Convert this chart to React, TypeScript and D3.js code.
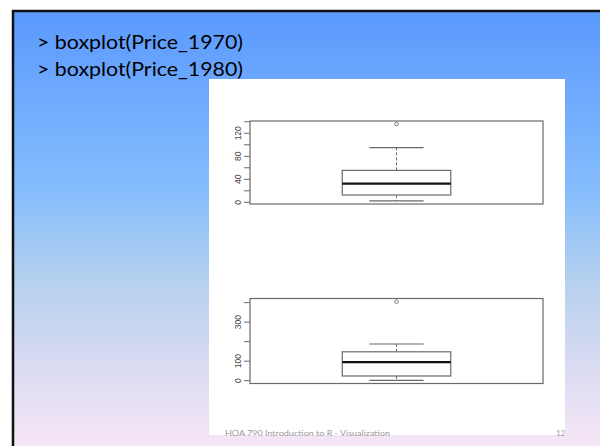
import React from 'react';
import * as d3 from 'd3';

// five-number summaries: [lowWhisker, q1, median, q3, highWhisker]
const price1970Stats = [2.4, 12.7, 32.6, 55.5, 95];
const price1970Outliers = [136];
const price1970Ticks = [0, 20, 40, 60, 80, 100, 120, 140];
const price1970Labels = [0, 40, 80, 120];

const price1980Stats = [1.7, 24, 95, 148, 188];
const price1980Outliers = [405];
const price1980Ticks = [0, 100, 200, 300, 400];
const price1980Labels = [0, 100, 300];

const titleLines = ['> boxplot(Price_1970)', '> boxplot(Price_1980)'];
const footerText = 'HOA 790  Introduction to R - Visualization';
const pageNumber = '12';

const W = 600;
const H = 446;

type BoxProps = {
  stats: number[];
  outliers: number[];
  ticks: number[];
  labels: number[];
  top: number;
  bottom: number;
};

function RBoxplot({ stats, outliers, ticks, labels, top, bottom }: BoxProps) {
  const left = 250;
  const right = 543;
  // R extends the data range by 4% on each side
  const all = stats.concat(outliers);
  const lo = d3.min(all) as number;
  const hi = d3.max(all) as number;
  const pad = (hi - lo) * 0.04;
  const y = d3.scaleLinear().domain([lo - pad, hi + pad]).range([bottom, top]);
  const x = d3.scaleLinear().domain([0.46, 1.54]).range([left, right]);

  const [wLo, q1, med, q3, wHi] = stats;
  const cx = x(1);
  const bx0 = x(0.8);
  const bx1 = x(1.2);
  const sx0 = x(0.9);
  const sx1 = x(1.1);
  const grey = '#6a6a6a';

  return (
    <g>
      <rect x={left} y={top} width={right - left} height={bottom - top} fill="none" stroke={grey} strokeWidth={1.2} />
      {ticks.map(t => (
        <line key={'t' + t} x1={left} x2={left - 6} y1={y(t)} y2={y(t)} stroke={grey} strokeWidth={1} />
      ))}
      {labels.map(t => (
        <text
          key={'l' + t}
          transform={`translate(241,${y(t)}) rotate(-90)`}
          textAnchor="middle"
          fontSize={8.5}
          fontFamily="Liberation Sans, Arial, sans-serif"
          fill="#444"
        >
          {t}
        </text>
      ))}
      {/* whiskers */}
      <line x1={cx} x2={cx} y1={y(q3)} y2={y(wHi)} stroke={grey} strokeDasharray="3,2" />
      <line x1={cx} x2={cx} y1={y(q1)} y2={y(wLo)} stroke={grey} strokeDasharray="3,2" />
      <line x1={sx0} x2={sx1} y1={y(wHi)} y2={y(wHi)} stroke={grey} strokeWidth={1.2} />
      <line x1={sx0} x2={sx1} y1={y(wLo)} y2={y(wLo)} stroke={grey} strokeWidth={1.2} />
      {/* box */}
      <rect x={bx0} y={y(q3)} width={bx1 - bx0} height={y(q1) - y(q3)} fill="white" stroke={grey} strokeWidth={1.2} />
      <line x1={bx0} x2={bx1} y1={y(med)} y2={y(med)} stroke="#111" strokeWidth={2.2} />
      {outliers.map((o, i) => (
        <circle key={i} cx={cx} cy={y(o)} r={1.8} fill="none" stroke={grey} strokeWidth={0.9} />
      ))}
    </g>
  );
}

export default function App() {
  return (
    <svg
      width={W}
      height={H}
      style={{ position: 'fixed', left: 0, top: 0, display: 'block', background: 'white' }}
    >
      <defs>
        <linearGradient id="slideBg" x1="0" y1="0" x2="0" y2="1">
          <stop offset="0%" stopColor="#5a99fe" />
          <stop offset="42%" stopColor="#86bdfc" />
          <stop offset="62%" stopColor="#b5d0ee" />
          <stop offset="82%" stopColor="#dadbf2" />
          <stop offset="100%" stopColor="#f6e6f6" />
        </linearGradient>
      </defs>
      <rect x={12} y={10} width={W - 12} height={H - 10} fill="url(#slideBg)" />
      <line x1={12} x2={W} y1={11} y2={11} stroke="#111" strokeWidth={2.5} />
      <line x1={13} x2={13} y1={10} y2={H} stroke="#111" strokeWidth={2.5} />

      {titleLines.map((t, i) => (
        <text
          key={t}
          x={37}
          y={49 + i * 27}
          fontSize={18.5}
          fontFamily="Lato, 'Open Sans', sans-serif"
          fill="#000"
          textLength={206}
          lengthAdjust="spacingAndGlyphs"
        >
          {t}
        </text>
      ))}

      <rect x={209} y={79} width={356} height={356} fill="white" />

      <RBoxplot
        stats={price1970Stats}
        outliers={price1970Outliers}
        ticks={price1970Ticks}
        labels={price1970Labels}
        top={121}
        bottom={204}
      />
      <RBoxplot
        stats={price1980Stats}
        outliers={price1980Outliers}
        ticks={price1980Ticks}
        labels={price1980Labels}
        top={298.5}
        bottom={383.5}
      />

      <text
        x={225}
        y={436}
        fontSize={7.5}
        fontFamily="Lato, 'Open Sans', sans-serif"
        fill="#9a9a9a"
        textLength={165}
        lengthAdjust="spacingAndGlyphs"
      >
        {footerText}
      </text>
      <text x={565} y={436} fontSize={7.5} fontFamily="Lato, 'Open Sans', sans-serif" fill="#9a9a9a" textAnchor="end">
        {pageNumber}
      </text>
    </svg>
  );
}
